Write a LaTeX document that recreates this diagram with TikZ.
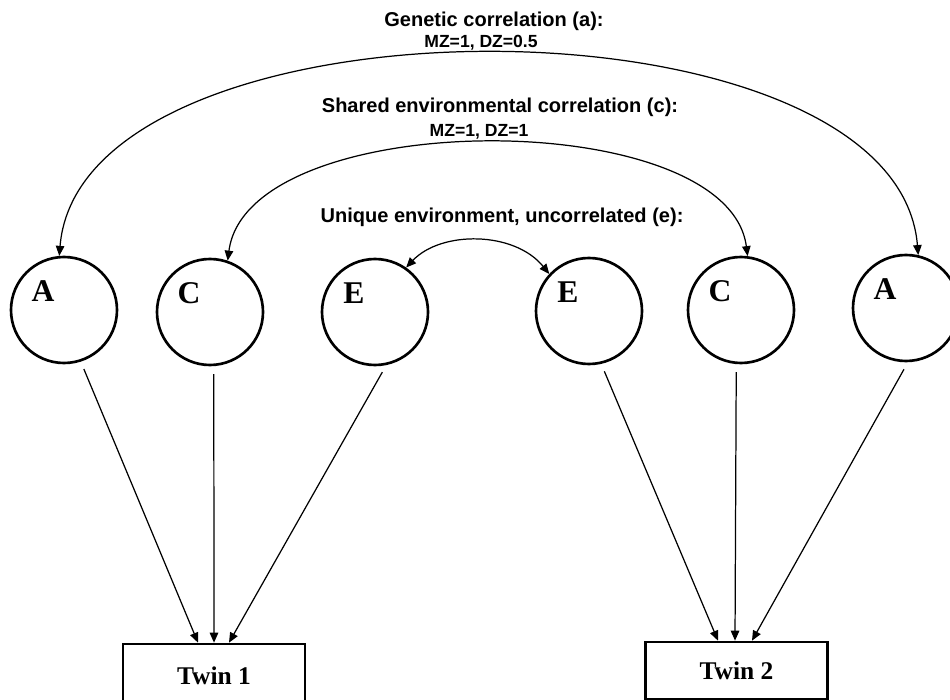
\documentclass[tikz,border=0pt]{standalone}
\usepackage{fontspec}
\setmainfont{Liberation Serif}
\setsansfont{Liberation Sans}
\usepackage{tikz}
\usetikzlibrary{arrows.meta}

\begin{document}
\begin{tikzpicture}[
    x=0.2mm, y=-0.2mm,
    >={Triangle[length=2mm, width=1.7mm]},
    latent/.style={
        circle, draw, line width=1.5pt, minimum size=21.2mm, inner sep=0pt
    },
    letter/.style={font=\fontsize{18}{18}\selectfont\bfseries, xshift=-4.2mm, yshift=3.8mm},
    twin/.style={
        rectangle, draw, line width=1.5pt, minimum width=36.4mm,
        font=\fontsize{14.5}{14.5}\selectfont\bfseries
    },
    loading/.style={->, line width=0.7pt, shorten <=1.6mm},
    corr/.style={<->, line width=0.7pt},
    heading/.style={font=\sffamily\bfseries\fontsize{11.4}{13}\selectfont, anchor=base},
    values/.style={font=\sffamily\bfseries\fontsize{10}{12}\selectfont, anchor=base},
]
\useasboundingbox (0,0) rectangle (950,700);

% ── Latent factors, twin 1 ────────────────────────────────────────────────
\node[latent, label={[letter]center:A}] (A1) at (64,310) {};
\node[latent, label={[letter]center:C}] (C1) at (210,312) {};
\node[latent, label={[letter]center:E}] (E1) at (375,312) {};

% ── Latent factors, twin 2 ────────────────────────────────────────────────
\node[latent, label={[letter]center:E}] (E2) at (589,311) {};
\node[latent, label={[letter]center:C}] (C2) at (741,310) {};
\node[latent, label={[letter]center:A}] (A2) at (906,308) {};

% ── Observed twins ────────────────────────────────────────────────────────
\node[twin, minimum height=12.8mm] (twin1) at (214,676) {Twin 1};
\node[twin, minimum height=11.4mm] (twin2) at (736.5,670.5) {Twin 2};

% ── Correlation labels ────────────────────────────────────────────────────
\node[heading] (genetic) at (494,27) {Genetic correlation (a):};
\node[values] (geneticval) at (481,48) {MZ=1, DZ=0.5};
\node[heading] (shared) at (500,113) {Shared environmental correlation (c):};
\node[values] (sharedval) at (479,137) {MZ=1, DZ=1};
\node[heading] (unique) at (502,223) {Unique environment, uncorrelated (e):};

% ── Correlations ──────────────────────────────────────────────────────────
\draw[corr] (A1.95) .. controls +(22,-269) and +(-22,-269) .. (A2.77);
\draw[corr] (C1.71) .. controls +(20,-155) and +(-20,-152) .. (C2.83);
\draw[corr] (E1.55) .. controls +(35,-37) and +(-35,-43) .. (E2.137);

% ── Paths to twins ────────────────────────────────────────────────────────
\draw[loading] (A1.-72) -- ([xshift=-3.2mm]twin1.north);
\draw[loading] (C1.-86) -- (twin1.north);
\draw[loading] (E1.-78) -- ([xshift=3mm]twin1.north);
\draw[loading] (E2.-77) -- ([xshift=-3.7mm]twin2.north);
\draw[loading] (C2.-95) -- ([xshift=-0.3mm]twin2.north);
\draw[loading] (A2.-88) -- ([xshift=3.1mm]twin2.north);

\end{tikzpicture}
\end{document}
